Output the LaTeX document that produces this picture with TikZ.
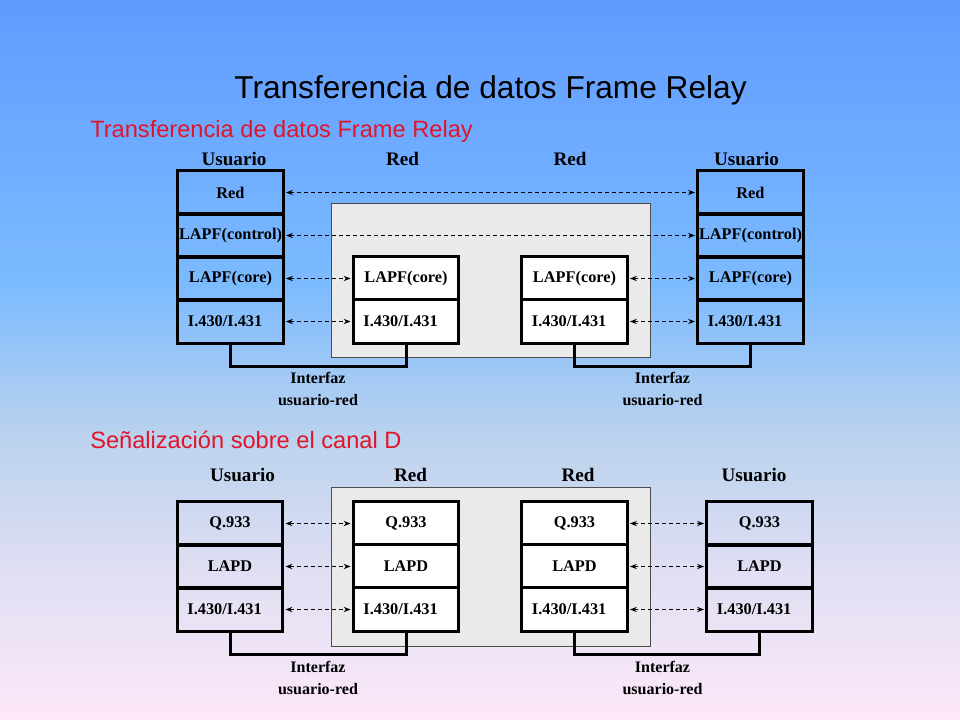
\documentclass[tikz,border=0pt]{standalone}
\usepackage{fontspec}
\setmainfont{Liberation Serif}
\newfontfamily\arial{Liberation Sans}
\usetikzlibrary{arrows.meta}
\definecolor{cielo}{RGB}{95,155,255}
\definecolor{celeste}{RGB}{125,187,255}
\definecolor{medio}{RGB}{185,210,238}
\definecolor{lila}{RGB}{225,223,243}
\definecolor{rosa}{RGB}{253,232,249}
\definecolor{rojo}{RGB}{225,20,40}
\definecolor{gris}{RGB}{234,234,234}
\pgfdeclareverticalshading{fondoazul}{100bp}{color(0bp)=(rosa); color(25bp)=(rosa); color(35bp)=(lila); color(45bp)=(medio); color(55bp)=(celeste); color(75bp)=(cielo); color(100bp)=(cielo)}

\begin{document}
\begin{tikzpicture}[x=0.025cm,y=-0.025cm,
  capa/.style={draw,line width=0.075cm,minimum width=2.625cm,minimum height=1.075cm,inner sep=0pt,font=\bfseries\fontsize{11.6}{13}\selectfont},
  capared/.style={capa,fill=white},
  izq/.style={text width=2.125cm,inner xsep=0.25cm,align=left},
  cabecera/.style={font=\bfseries\fontsize{13.6}{16}\selectfont},
  nota/.style={font=\bfseries\fontsize{11.4}{15.5}\selectfont,align=center},
  flecha/.style={{Stealth[length=0.17cm,width=0.13cm]}-{Stealth[length=0.17cm,width=0.13cm]},dash pattern=on 0.1cm off 0.075cm,line width=0.7pt,shorten <=0.0375cm,shorten >=0.0375cm},
  interfaz/.style={line width=0.075cm},
  fondo/.style={draw=black!70,fill=gris,line width=0.5pt},
  subtitulo/.style={anchor=west,inner sep=0pt,text=rojo,font=\arial\fontsize{16.8}{20}\selectfont}]

  \shade[shading=fondoazul] (0,0) rectangle (960,720);
  \useasboundingbox (0,0) rectangle (960,720);

  \node[font=\arial\fontsize{22.5}{27}\selectfont] (titulo) at (490.5,90) {Transferencia de datos Frame Relay};

  % transferencia de datos
  \node[subtitulo] (sub1) at (90,131) {Transferencia de datos Frame Relay};
  \node[cabecera] (hua) at (234,159) {Usuario};
  \node[cabecera] (hra) at (402.5,159) {Red};
  \node[cabecera] (hrb) at (570,159) {Red};
  \node[cabecera] (hub) at (746.5,159) {Usuario};
  \draw[fondo] (331,203) rectangle (650,357);
  \node[capa] (ua1) at (230.5,192.5) {Red};
  \node[capa] (ua2) at (230.5,235.5) {LAPF(control)};
  \node[capa] (ua3) at (230.5,278.5) {LAPF(core)};
  \node[capa,izq] (ua4) at (230.5,321.5) {I.430/I.431};
  \node[capared] (ra1) at (406,278.5) {LAPF(core)};
  \node[capared,izq] (ra2) at (406,321.5) {I.430/I.431};
  \node[capared] (rb1) at (574.5,278.5) {LAPF(core)};
  \node[capared,izq] (rb2) at (574.5,321.5) {I.430/I.431};
  \node[capa] (ub1) at (750.5,192.5) {Red};
  \node[capa] (ub2) at (750.5,235.5) {LAPF(control)};
  \node[capa] (ub3) at (750.5,278.5) {LAPF(core)};
  \node[capa,izq] (ub4) at (750.5,321.5) {I.430/I.431};
  \draw[flecha] (ua1) -- (ub1);
  \draw[flecha] (ua2) -- (ub2);
  \draw[flecha] (ua3) -- (ra1);
  \draw[flecha] (ua4) -- (ra2);
  \draw[flecha] (rb1) -- (ub3);
  \draw[flecha] (rb2) -- (ub4);
  \draw[interfaz] (ua4.south) -- ++(0,22) -| (ra2.south);
  \draw[interfaz] (rb2.south) -- ++(0,22) -| (ub4.south);
  \node[nota] (ia) at (318,389) {Interfaz\\usuario-red};
  \node[nota] (ib) at (662.5,389) {Interfaz\\usuario-red};

  % senalizacion
  \node[subtitulo] (sub2) at (90,440) {Señalización sobre el canal D};
  \node[cabecera] (hsa) at (242.5,475) {Usuario};
  \node[cabecera] (hsb) at (410.5,475) {Red};
  \node[cabecera] (hsc) at (578,475) {Red};
  \node[cabecera] (hsd) at (754,475) {Usuario};
  \draw[fondo] (331,487) rectangle (650,646);
  \node[capa] (sa1) at (230,523.5) {Q.933};
  \node[capa] (sa2) at (230,566.5) {LAPD};
  \node[capa,izq] (sa3) at (230,609.5) {I.430/I.431};
  \node[capared] (sb1) at (406,523.5) {Q.933};
  \node[capared] (sb2) at (406,566.5) {LAPD};
  \node[capared,izq] (sb3) at (406,609.5) {I.430/I.431};
  \node[capared] (sc1) at (574.5,523.5) {Q.933};
  \node[capared] (sc2) at (574.5,566.5) {LAPD};
  \node[capared,izq] (sc3) at (574.5,609.5) {I.430/I.431};
  \node[capa] (sd1) at (759.5,523.5) {Q.933};
  \node[capa] (sd2) at (759.5,566.5) {LAPD};
  \node[capa,izq] (sd3) at (759.5,609.5) {I.430/I.431};
  \draw[flecha] (sa1) -- (sb1);
  \draw[flecha] (sa2) -- (sb2);
  \draw[flecha] (sa3) -- (sb3);
  \draw[flecha] (sc1) -- (sd1);
  \draw[flecha] (sc2) -- (sd2);
  \draw[flecha] (sc3) -- (sd3);
  \draw[interfaz] (sa3.south) -- ++(0,22) -| (sb3.south);
  \draw[interfaz] (sc3.south) -- ++(0,22) -| (sd3.south);
  \node[nota] (ic) at (318,678) {Interfaz\\usuario-red};
  \node[nota] (id) at (662.5,678) {Interfaz\\usuario-red};
\end{tikzpicture}
\end{document}
